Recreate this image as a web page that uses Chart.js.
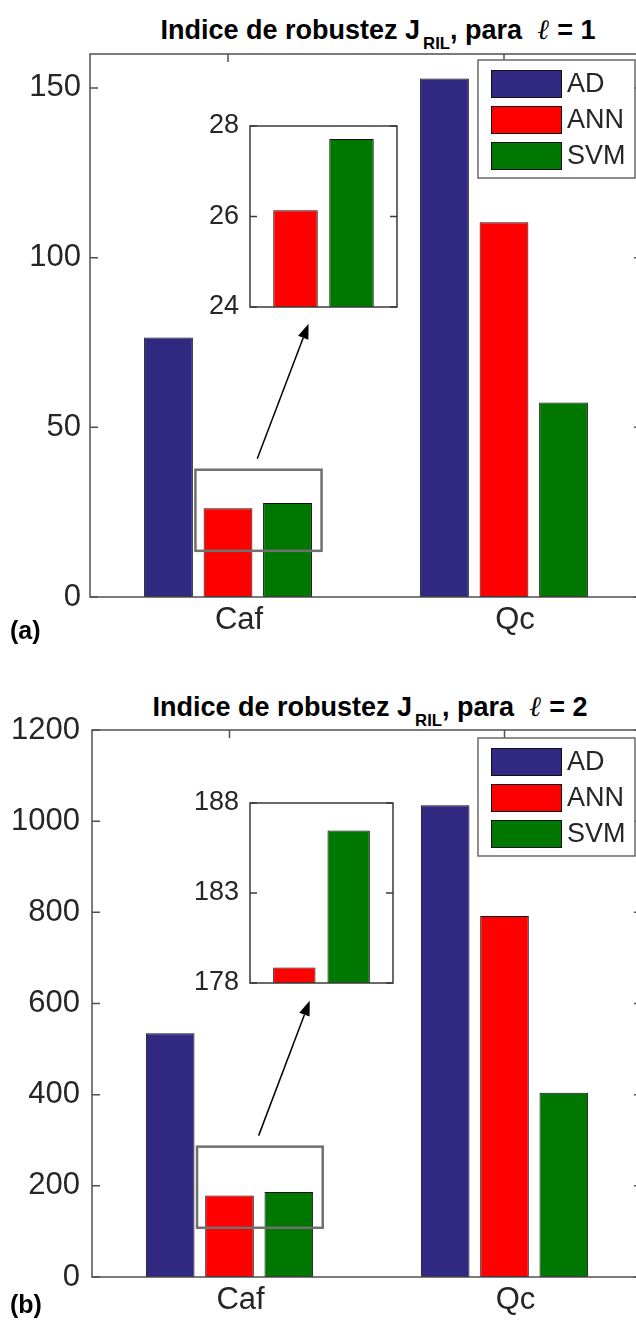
<!DOCTYPE html>
<html>
<head>
<meta charset="utf-8">
<script src="https://cdn.jsdelivr.net/npm/chart.js@4.4.0/dist/chart.umd.min.js"></script>
<style>
  html, body { margin: 0; padding: 0; background: #fff; }
  #fig { position: relative; width: 636px; height: 1321px; overflow: hidden; font-family: 'Liberation Sans', Arial, sans-serif; }
  #fig canvas { position: absolute; }
  .title { position: absolute; font-weight: bold; font-size: 27px; line-height: 1; white-space: nowrap; transform: translateX(-50%); color: #000; }
  .title sub { font-size: 0.62em; vertical-align: -0.6em; line-height: 0; margin-left: 3px; }
  .title i { font-family: 'DejaVu Serif', serif; font-size: 1.05em; margin-left: 8px; }
  .tag { position: absolute; font-weight: bold; font-size: 25px; line-height: 1; color: #000; }
</style>
</head>
<body>
<div id="fig">
  <div class="title" style="left:378px; top:15px;">Indice de robustez J<sub>RIL</sub>, para <i>ℓ</i> = 1</div>
  <canvas id="mainA" width="642" height="650" style="left:0; top:0;"></canvas>
  <canvas id="insetA" width="225" height="237" style="left:180px; top:98px;"></canvas>
  <div class="tag" style="left:10px; top:618px;">(a)</div>

  <div class="title" style="left:370px; top:692px;">Indice de robustez J<sub>RIL</sub>, para <i>ℓ</i> = 2</div>
  <canvas id="mainB" width="642" height="671" style="left:0; top:650px;"></canvas>
  <canvas id="insetB" width="225" height="236" style="left:180px; top:775px;"></canvas>
  <div class="tag" style="left:10px; top:1292px;">(b)</div>
</div>
<script>
// datos
const categories = ['Caf', 'Qc'];
const seriesNames = ['AD', 'ANN', 'SVM'];
const seriesColors = ['#312882', '#ff0000', '#007700'];

const adL1 = [76.5, 152.8];
const annL1 = [26.14, 110.4];
const svmL1 = [27.71, 57.3];
const yMaxL1 = 160;
const yTicksL1 = [0, 50, 100, 150];
const insetTicksL1 = [24, 26, 28];
const zoomWinL1 = [13.6, 37.5];

const adL2 = [535, 1035];
const annL2 = [178.86, 792];
const svmL2 = [186.47, 404];
const yMaxL2 = 1200;
const yTicksL2 = [0, 200, 400, 600, 800, 1000, 1200];
const insetTicksL2 = [178, 183, 188];
const zoomWinL2 = [108, 286];

Chart.defaults.font.family = "'Liberation Sans', Arial, sans-serif";
Chart.defaults.color = '#262626';

// caja tipo MATLAB con marcas hacia dentro
const boxAxes = {
  id: 'boxAxes',
  beforeDatasetsDraw(chart, args, o) {
    if (!o.fill) return;
    const a = chart.chartArea;
    chart.ctx.save();
    chart.ctx.fillStyle = '#fff';
    chart.ctx.fillRect(a.left, a.top, a.right - a.left, a.bottom - a.top);
    chart.ctx.restore();
  },
  afterDatasetsDraw(chart, args, o) {
    const { ctx, chartArea: a, scales: { x, y } } = chart;
    ctx.save();
    ctx.strokeStyle = o.color || '#505050';
    ctx.lineWidth = o.width || 1.5;
    ctx.strokeRect(a.left, a.top, a.right - a.left, a.bottom - a.top);
    ctx.beginPath();
    y.ticks.forEach(t => {
      const py = y.getPixelForValue(t.value);
      ctx.moveTo(a.left, py); ctx.lineTo(a.left + o.len, py);
      ctx.moveTo(a.right, py); ctx.lineTo(a.right - o.len, py);
    });
    if (o.topTicks) {
      chart.data.labels.forEach((l, i) => {
        const px = x.getPixelForValue(i);
        ctx.moveTo(px, a.top); ctx.lineTo(px, a.top + o.len);
      });
    }
    ctx.stroke();
    ctx.restore();
  }
};

// recuadro de zoom, flecha y leyenda
const overlay = {
  id: 'overlay',
  afterDatasetsDraw(chart, args, o) {
    const { ctx, chartArea: a, scales: { x, y } } = chart;
    const cx = x.getPixelForValue(0);
    const cw = x.getPixelForValue(1) - cx;
    const left = cx + o.fromX * cw, right = cx + o.toX * cw;
    const top = y.getPixelForValue(o.win[1]), bottom = y.getPixelForValue(o.win[0]);
    ctx.save();
    ctx.strokeStyle = '#707070';
    ctx.lineWidth = 2.5;
    ctx.strokeRect(left, top, right - left, bottom - top);

    // flecha
    const sx = left + 0.49 * (right - left), sy = top - 11;
    const ex = right - 13, ey = top - 146;
    const ang = Math.atan2(ey - sy, ex - sx);
    const hl = 15, hw = 5.5;
    const bx = ex - hl * Math.cos(ang), by = ey - hl * Math.sin(ang);
    ctx.strokeStyle = '#000';
    ctx.lineWidth = 1.5;
    ctx.beginPath(); ctx.moveTo(sx, sy); ctx.lineTo(bx, by); ctx.stroke();
    ctx.fillStyle = '#000';
    ctx.beginPath();
    ctx.moveTo(ex, ey);
    ctx.lineTo(bx + hw * Math.sin(ang), by - hw * Math.cos(ang));
    ctx.lineTo(bx - hw * Math.sin(ang), by + hw * Math.cos(ang));
    ctx.closePath(); ctx.fill();

    // leyenda
    const lx = a.right - 164, ly = a.top + o.legendTop;
    ctx.fillStyle = '#fff';
    ctx.fillRect(lx, ly, 157, 118);
    ctx.strokeStyle = '#6a6a6a';
    ctx.lineWidth = 1.5;
    ctx.strokeRect(lx, ly, 157, 118);
    ctx.font = "27px 'Liberation Sans', Arial, sans-serif";
    ctx.textBaseline = 'middle';
    chart.data.datasets.forEach((ds, i) => {
      const sy2 = ly + 10.5 + i * 36;
      ctx.fillStyle = ds.backgroundColor;
      ctx.fillRect(lx + 13.5, sy2, 70, 27);
      ctx.strokeStyle = '#111';
      ctx.lineWidth = 1;
      ctx.strokeRect(lx + 13.5, sy2, 70, 27);
      ctx.fillStyle = '#262626';
      ctx.fillText(ds.label, lx + 89, sy2 + 14.5);
    });
    ctx.restore();
  }
};

function makeDatasets(values, idx, style) {
  return idx.map((k, j) => ({
    label: seriesNames[k],
    data: values[j],
    backgroundColor: seriesColors[k],
    borderColor: '#111',
    borderWidth: 1,
    borderSkipped: false,
    categoryPercentage: style.cp,
    barPercentage: style.bp
  }));
}

function mainChart(id, values, yMax, yTicks, yWidth, xHeight, padTop, tickPad, win, legendTop) {
  return new Chart(document.getElementById(id), {
    type: 'bar',
    data: {
      labels: categories,
      datasets: makeDatasets(values, [0, 1, 2], { cp: 0.647, bp: 0.82 })
    },
    options: {
      responsive: false,
      animation: false,
      devicePixelRatio: 1,
      layout: { padding: { top: padTop, left: 0, right: 0, bottom: 0 } },
      plugins: {
        legend: { display: false },
        tooltip: { enabled: false },
        boxAxes: { len: 8, topTicks: true },
        overlay: { win: win, fromX: -0.118, toX: 0.339, legendTop: legendTop }
      },
      scales: {
        x: {
          grid: { display: false, drawTicks: false },
          border: { display: false },
          ticks: { font: { size: 31 }, padding: 5, labelOffset: 11, color: '#262626' },
          afterFit(s) { s.height = xHeight; }
        },
        y: {
          min: 0, max: yMax,
          grid: { display: false, drawTicks: false },
          border: { display: false },
          ticks: { font: { size: 31 }, padding: tickPad, color: '#262626', callback: v => String(v) },
          afterBuildTicks(s) { s.ticks = yTicks.map(v => ({ value: v })); },
          afterFit(s) { s.width = yWidth; }
        }
      }
    },
    plugins: [boxAxes, overlay]
  });
}

function insetChart(id, values, ticks, cp, bp, padRight) {
  return new Chart(document.getElementById(id), {
    type: 'bar',
    data: {
      labels: [categories[0]],
      datasets: makeDatasets(values, [1, 2], { cp: cp, bp: bp })
    },
    options: {
      responsive: false,
      animation: false,
      devicePixelRatio: 1,
      layout: { padding: { top: 28, left: 0, right: padRight, bottom: 28 } },
      plugins: {
        legend: { display: false },
        tooltip: { enabled: false },
        boxAxes: { len: 7, topTicks: false, fill: true, color: '#3a3a3a' }
      },
      scales: {
        x: { display: false },
        y: {
          min: ticks[0], max: ticks[ticks.length - 1],
          grid: { display: false, drawTicks: false },
          border: { display: false },
          ticks: { font: { size: 27 }, padding: 11, color: '#262626', callback: v => String(v) },
          afterBuildTicks(s) { s.ticks = ticks.map(v => ({ value: v })); },
          afterFit(s) { s.width = 70; }
        }
      }
    },
    plugins: [boxAxes]
  });
}

mainChart('mainA', [adL1, annL1, svmL1], yMaxL1, yTicksL1, 90, 53, 54, 9, zoomWinL1, 6);
mainChart('mainB', [adL2, annL2, svmL2], yMaxL2, yTicksL2, 92, 44, 80, 12, zoomWinL2, 8);
insetChart('insetA', [[annL1[0]], [svmL1[0]]], insetTicksL1, 0.762, 0.795, 8);
insetChart('insetB', [[annL2[0]], [svmL2[0]]], insetTicksL2, 0.76, 0.78, 12);
</script>
</body>
</html>
